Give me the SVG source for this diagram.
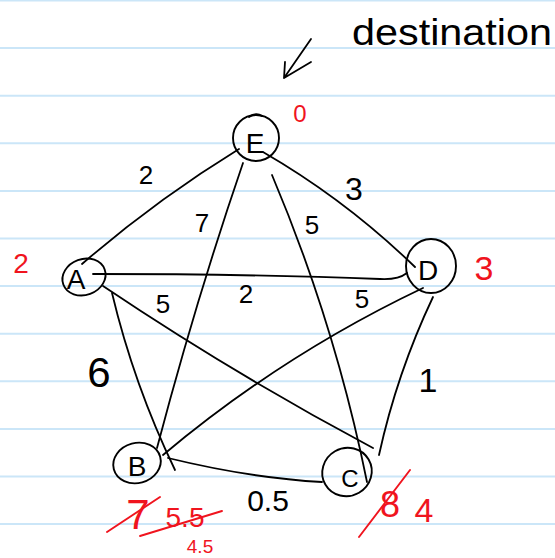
<svg xmlns="http://www.w3.org/2000/svg" width="555" height="558" viewBox="0 0 555 558">
<defs>
<style>
.rule{stroke:#cbe6f8;stroke-width:2}
.edge{fill:none;stroke:#000;stroke-width:1.8;stroke-linecap:round}
.node{fill:none;stroke:#000;stroke-width:1.9}
.t{font-family:"Liberation Sans",Arial,sans-serif;fill:#000;text-anchor:middle}
.r{font-family:"Liberation Sans",Arial,sans-serif;fill:#f0141e;text-anchor:middle}
.rs{fill:none;stroke:#f0141e;stroke-width:1.9;stroke-linecap:round}
</style>
</defs>
<rect width="555" height="558" fill="#fff"/>
<g id="rules">
<line class="rule" x1="0" y1="0.5" x2="555" y2="0.5"/>
<line class="rule" x1="0" y1="48.1" x2="555" y2="48.1"/>
<line class="rule" x1="0" y1="95.7" x2="555" y2="95.7"/>
<line class="rule" x1="0" y1="143.3" x2="555" y2="143.3"/>
<line class="rule" x1="0" y1="190.9" x2="555" y2="190.9"/>
<line class="rule" x1="0" y1="238.5" x2="555" y2="238.5"/>
<line class="rule" x1="0" y1="286.1" x2="555" y2="286.1"/>
<line class="rule" x1="0" y1="333.7" x2="555" y2="333.7"/>
<line class="rule" x1="0" y1="381.3" x2="555" y2="381.3"/>
<line class="rule" x1="0" y1="428.9" x2="555" y2="428.9"/>
<line class="rule" x1="0" y1="476.5" x2="555" y2="476.5"/>
<line class="rule" x1="0" y1="524.1" x2="555" y2="524.1"/>
</g>
<g id="annotation">
<text class="t" x="352" y="45" font-size="36" textLength="200" lengthAdjust="spacingAndGlyphs" style="text-anchor:start">destination</text>
<path class="edge" d="M311,39 L284,78 M284,78 L285,62 M284,78 L311,62"/>
</g>
<g id="connectors">
<path class="edge" d="M239,149 Q156,200 82,264"/>
<path class="edge" d="M263,152 Q346,200 415,267"/>
<path class="edge" d="M243,163 Q196,300 157,448"/>
<path class="edge" d="M272,175 Q335,324 367,482"/>
<path class="edge" d="M93,274 Q250,274 380,279 Q398,280 407,273"/>
<path class="edge" d="M103,286 Q234,374 373,448"/>
<path class="edge" d="M423,288 Q282,355 163,455"/>
<path class="edge" d="M433,297 Q397,373 379,455"/>
<path class="edge" d="M168,458 Q250,478 322,482"/>
<path class="edge" d="M112,293 Q134,385 175,470"/>
</g>
<g id="node-E">
<ellipse class="node" cx="256" cy="138" rx="23" ry="23"/>
<path class="edge" d="M249,117 Q256,112 262,116"/>
<text class="t" x="255" y="153" font-size="28">E</text>
</g>
<g id="node-A">
<ellipse class="node" cx="84" cy="277" rx="22" ry="18" transform="rotate(-20 84 277)"/>
<text class="t" x="76" y="289" font-size="28">A</text>
</g>
<g id="node-D">
<ellipse class="node" cx="431" cy="266" rx="25" ry="27"/>
<text class="t" x="428" y="280" font-size="28">D</text>
</g>
<g id="node-B">
<ellipse class="node" cx="137" cy="463" rx="24" ry="20" transform="rotate(-15 137 463)"/>
<text class="t" x="137" y="476" font-size="28">B</text>
</g>
<g id="node-C">
<ellipse class="node" cx="347" cy="472" rx="25" ry="24" transform="rotate(-30 347 472)"/>
<text class="t" x="350" y="487" font-size="24">C</text>
</g>
<g id="edge-labels">
<text class="t" x="146" y="184" font-size="26">2</text>
<text class="t" x="202" y="232" font-size="26">7</text>
<text class="t" x="354" y="200" font-size="32">3</text>
<text class="t" x="312" y="234" font-size="26">5</text>
<text class="t" x="163" y="313" font-size="26">5</text>
<text class="t" x="246" y="303" font-size="26">2</text>
<text class="t" x="362" y="308" font-size="26">5</text>
<text class="t" x="99" y="387" font-size="42">6</text>
<text class="t" x="428" y="392" font-size="34">1</text>
<text class="t" x="268" y="511" font-size="30">0.5</text>
</g>
<g id="distances">
<text class="r" x="300" y="122" font-size="24">0</text>
<text class="r" x="21" y="273" font-size="28">2</text>
<text class="r" x="484" y="280" font-size="34">3</text>
<text class="r" x="138" y="529" font-size="42">7</text>
<path class="rs" d="M107,532 L160,497"/>
<text class="r" x="185" y="527" font-size="28">5.5</text>
<path class="rs" d="M140,536 L222,511"/>
<text class="r" x="200" y="553" font-size="19">4.5</text>
<text class="r" x="390" y="517" font-size="36">8</text>
<path class="rs" d="M359,537 L410,470"/>
<text class="r" x="424" y="522" font-size="34">4</text>
</g>
</svg>
